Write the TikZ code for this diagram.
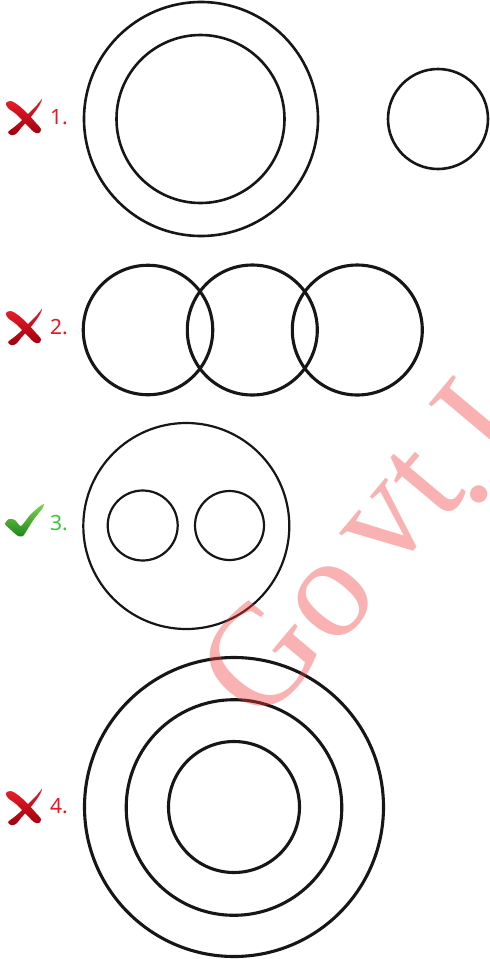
\documentclass[tikz,border=0pt]{standalone}
\usepackage{fontspec}
\setmainfont{Liberation Serif}
\newfontfamily\labfont{Noto Sans}
\definecolor{ink}{RGB}{22,22,22}
\definecolor{labred}{RGB}{240,20,30}
\definecolor{labgreen}{RGB}{55,200,55}
\definecolor{xtop}{RGB}{232,30,40}
\definecolor{xbot}{RGB}{160,0,15}
\definecolor{ctop}{RGB}{125,210,80}
\definecolor{cbot}{RGB}{30,135,25}
\definecolor{wmred}{RGB}{240,60,60}
\begin{document}
\begin{tikzpicture}[x=1pt,y=-1pt,
  ring/.style={circle,draw=ink,inner sep=0pt,minimum size=#1},
  thinring/.style={line width=2.2pt},
  midring/.style={line width=2.6pt},
  thickring/.style={line width=3.1pt},
  lab/.style={font=\labfont\fontsize{21}{21}\selectfont,inner sep=0pt,anchor=base west},
  wm/.style={font=\fontsize{145}{145}\selectfont,text=wmred,text opacity=0.4,inner sep=0pt,anchor=center,rotate=50},
  xmark/.pic={
    \shade[top color=xtop,bottom color=xbot]
      plot[smooth cycle,tension=0.55] coordinates {(1,4) (6,2) (13,6) (22,14) (31,24) (36,30) (34,34) (29,33) (20,24) (11,15) (3,9)};
    \shade[top color=xtop,bottom color=xbot]
      plot[smooth cycle,tension=0.55] coordinates {(37,0) (32,6) (23,15) (14,24) (8,29) (3,33) (6,36) (11,35) (16,29) (25,19) (34,7)};
  },
  cmark/.pic={
    \shade[top color=ctop,bottom color=cbot]
      plot[smooth cycle,tension=0.4] coordinates {(0,19) (4,14) (10,15) (16,21) (25,10) (34,2) (39,-1) (37,4) (29,14) (22,25) (18,31) (13,31) (6,25)};
  }
]
\useasboundingbox[fill=white] (0,0) rectangle (490,959);

% set 1
\node[ring=234pt,midring] (s1outer) at (201,119) {};
\node[ring=168pt,midring] (s1inner) at (200.5,119) {};
\node[ring=100pt,midring] (s1small) at (438,119) {};
% set 2
\node[ring=129.5pt,thickring] (s2a) at (148,330) {};
\node[ring=130pt,thickring] (s2b) at (252.3,330) {};
\node[ring=130pt,thickring] (s2c) at (357.3,330) {};
% set 3
\node[ring=206pt,thinring] (s3outer) at (186.3,526) {};
\node[ring=70pt,thinring] (s3left) at (142.7,525.5) {};
\node[ring=69pt,thinring] (s3right) at (229.5,525.5) {};
% set 4
\node[ring=299pt,thickring] (s4outer) at (234,807) {};
\node[ring=215.6pt,thickring] (s4mid) at (234,807.5) {};
\node[ring=131pt,thickring] (s4inner) at (234,807) {};

% marks and labels
\pic (m1) at (5,99) {xmark};
\node[lab,text=labred] (l1) at (50,124) {1.};
\pic (m2) at (5,309) {xmark};
\node[lab,text=labred] (l2) at (50,334) {2.};
\pic (m3) at (5,505) {cmark};
\node[lab,text=labgreen] (l3) at (50,530.5) {3.};
\pic (m4) at (5,789) {xmark};
\node[lab,text=labred] (l4) at (50,813) {4.};

% watermark, letter by letter
\node[wm] (wG) at (260,657) {G};
\node[wm] (wo) at (333,601) {o};
\node[wm] (wv) at (389,528) {v};
\node[wm] (wt) at (425,482) {t};
\node[wm] (wdot) at (479,494) {.};
\node[wm] (wI) at (478,420) {I};
\end{tikzpicture}
\end{document}
